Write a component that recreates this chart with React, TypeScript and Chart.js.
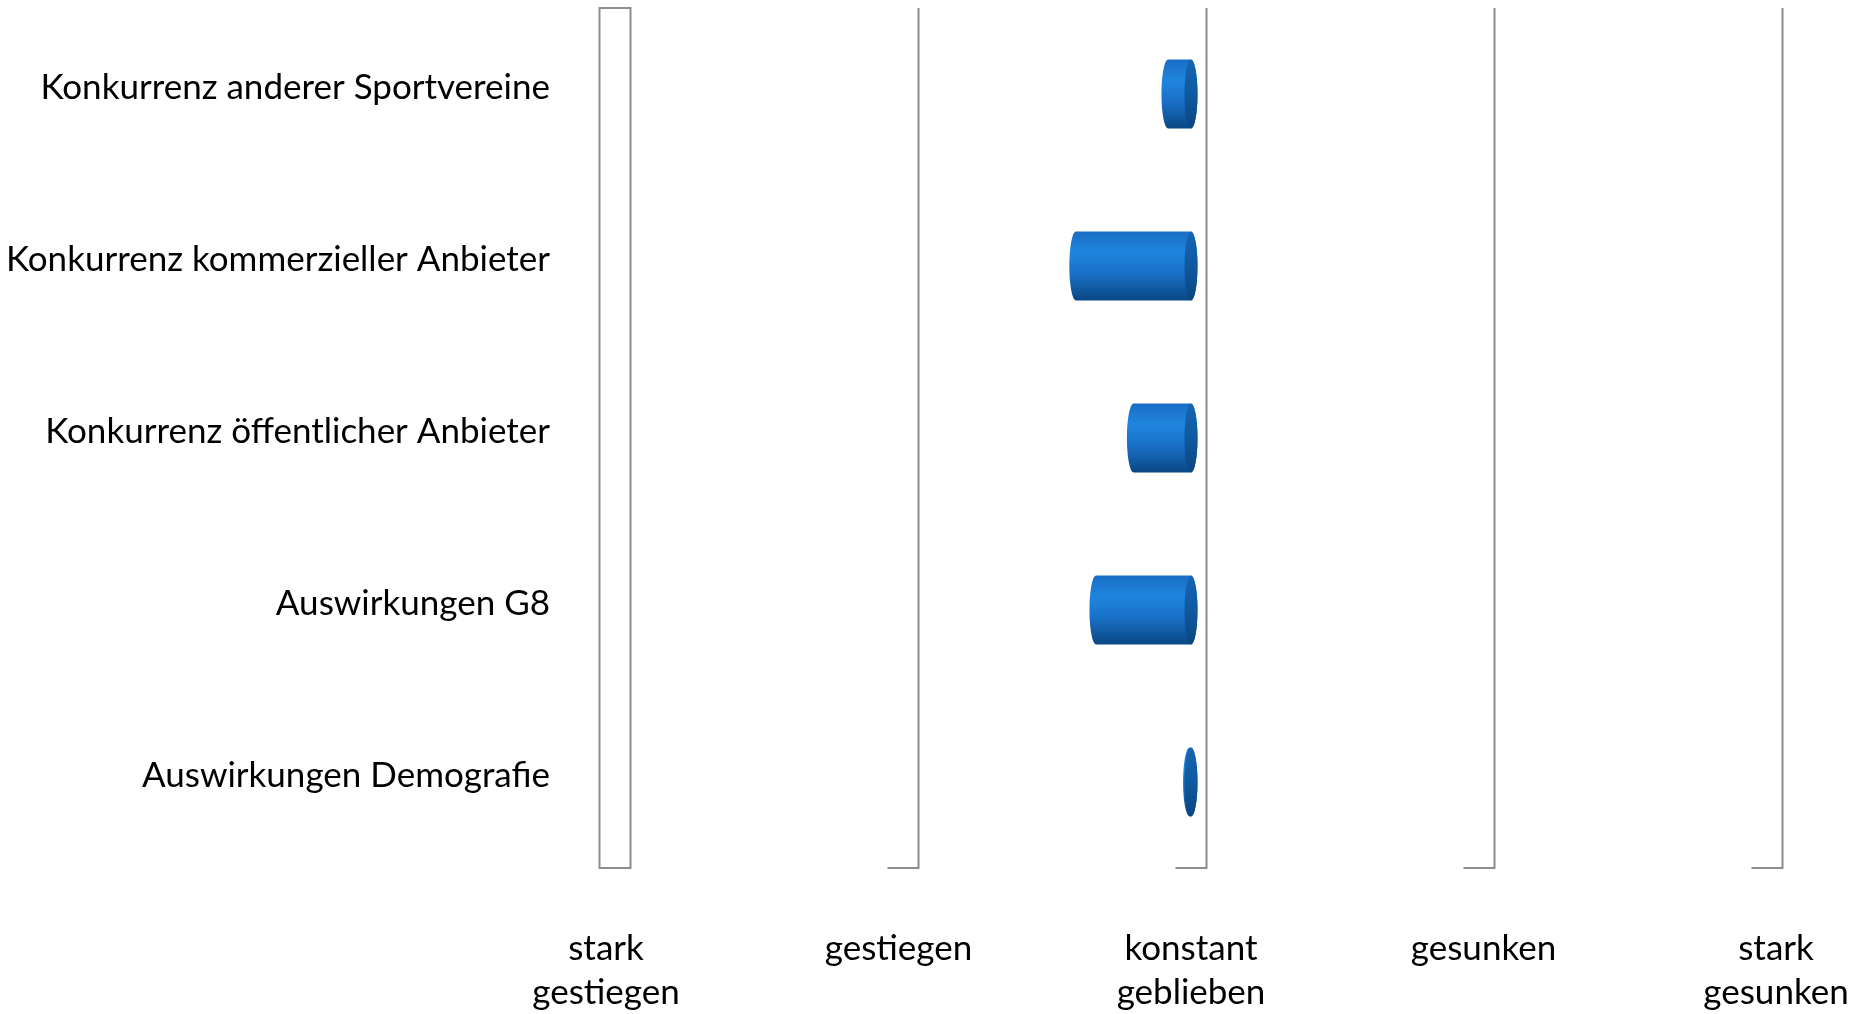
import React, { useEffect, useRef } from 'react';
import { Chart, registerables } from 'chart.js';

Chart.register(...registerables);

const categories = [
  'Konkurrenz anderer Sportvereine',
  'Konkurrenz kommerzieller Anbieter',
  'Konkurrenz öffentlicher Anbieter',
  'Auswirkungen G8',
  'Auswirkungen Demografie',
];
const values = [2.92, 2.6, 2.8, 2.67, 2.995];
const baseValue = 3;
const tickValues = [1, 2, 3, 4, 5];
const tickLabels: (string | string[])[] = [
  ['stark', 'gestiegen'],
  'gestiegen',
  ['konstant', 'geblieben'],
  'gesunken',
  ['stark', 'gesunken'],
];

const FONT = 'Lato, "Open Sans", sans-serif';
const DEPTH = 15.5;
const GRID_COLOR = '#8e8e8e';
// label axis range slightly wider spread (3D perspective of the original)
const LABEL_MIN = 1.0308;
const LABEL_MAX = 4.9692;

const threeD = {
  id: 'threeD',
  beforeDatasetsDraw(chart: any) {
    const { ctx, chartArea, scales } = chart;
    const x = scales.x;
    ctx.save();
    ctx.strokeStyle = GRID_COLOR;
    ctx.lineWidth = 2;
    tickValues.forEach((v, i) => {
      const px = x.getPixelForValue(v);
      ctx.beginPath();
      ctx.moveTo(px + DEPTH, chartArea.top);
      ctx.lineTo(px + DEPTH, chartArea.bottom);
      ctx.lineTo(px - DEPTH, chartArea.bottom);
      if (i === 0) {
        ctx.lineTo(px - DEPTH, chartArea.top);
        ctx.closePath();
      }
      ctx.stroke();
    });
    ctx.restore();
  },
  afterDatasetsDraw(chart: any) {
    const { ctx } = chart;
    const meta = chart.getDatasetMeta(0);
    ctx.save();
    meta.data.forEach((el: any) => {
      const { x, y, base, height } = el.getProps(['x', 'y', 'base', 'height'], true);
      const left = Math.min(x, base);
      const right = Math.max(x, base);
      const top = y - height / 2;
      const bottom = y + height / 2;
      const ry = height / 2;
      const rx = 6.5;
      const g = ctx.createLinearGradient(0, top, 0, bottom);
      g.addColorStop(0, '#186dc4');
      g.addColorStop(0.3, '#1f85de');
      g.addColorStop(0.6, '#1a71c8');
      g.addColorStop(1, '#0a4785');
      ctx.beginPath();
      ctx.ellipse(right, y, rx, ry, 0, -Math.PI / 2, Math.PI / 2);
      ctx.lineTo(left, bottom);
      ctx.ellipse(left, y, rx, ry, 0, Math.PI / 2, (3 * Math.PI) / 2);
      ctx.closePath();
      ctx.fillStyle = g;
      ctx.fill();
      const gc = ctx.createLinearGradient(0, top, 0, bottom);
      gc.addColorStop(0, '#1565b2');
      gc.addColorStop(0.5, '#0f5aa0');
      gc.addColorStop(1, '#0a457f');
      ctx.beginPath();
      ctx.ellipse(right, y, rx, ry, 0, 0, Math.PI * 2);
      ctx.fillStyle = gc;
      ctx.fill();
    });
    ctx.restore();
  },
};

export default function App() {
  const ref = useRef<HTMLCanvasElement>(null);
  useEffect(() => {
    if (!ref.current) return;
    const chart = new Chart(ref.current, {
      type: 'bar',
      data: {
        labels: categories,
        datasets: [
          {
            data: values.map((v) => [v, baseValue]) as any,
            backgroundColor: 'rgba(0,0,0,0)',
            borderWidth: 0,
            barPercentage: 0.4,
            categoryPercentage: 1,
          },
        ],
      },
      options: {
        indexAxis: 'y',
        animation: false,
        responsive: false,
        layout: { padding: { left: 0, right: 101, top: 8, bottom: 0 } },
        plugins: { legend: { display: false }, tooltip: { enabled: false } },
        scales: {
          x: {
            type: 'linear',
            min: 1,
            max: 5,
            display: false,
          },
          xLabels: {
            type: 'linear',
            position: 'bottom',
            min: LABEL_MIN,
            max: LABEL_MAX,
            afterBuildTicks: (s: any) => {
              s.ticks = tickValues.map((v) => ({ value: v }));
            },
            afterFit: (s: any) => {
              s.height = 146;
              s.paddingLeft = 0;
              s.paddingRight = 0;
            },
            ticks: {
              callback: (v: any) => tickLabels[tickValues.indexOf(Number(v))],
              font: { family: FONT, size: 35, lineHeight: 1.26 },
              color: '#000',
              padding: 51,
              maxRotation: 0,
              autoSkip: false,
            },
            grid: { display: false },
            border: { display: false },
          },
          y: {
            type: 'category',
            afterFit: (s: any) => {
              s.width = 615;
              s.paddingTop = 0;
              s.paddingBottom = 0;
            },
            ticks: {
              font: { family: FONT, size: 35 },
              color: '#000',
              padding: 57,
              labelOffset: -6,
              autoSkip: false,
            },
            grid: { display: false },
            border: { display: false },
          },
        },
      },
      plugins: [threeD],
    });
    return () => chart.destroy();
  }, []);
  return (
    <div style={{ position: 'fixed', left: 0, top: 0, width: 1868, height: 1014, background: '#fff' }}>
      <canvas ref={ref} width={1868} height={1014} />
    </div>
  );
}
